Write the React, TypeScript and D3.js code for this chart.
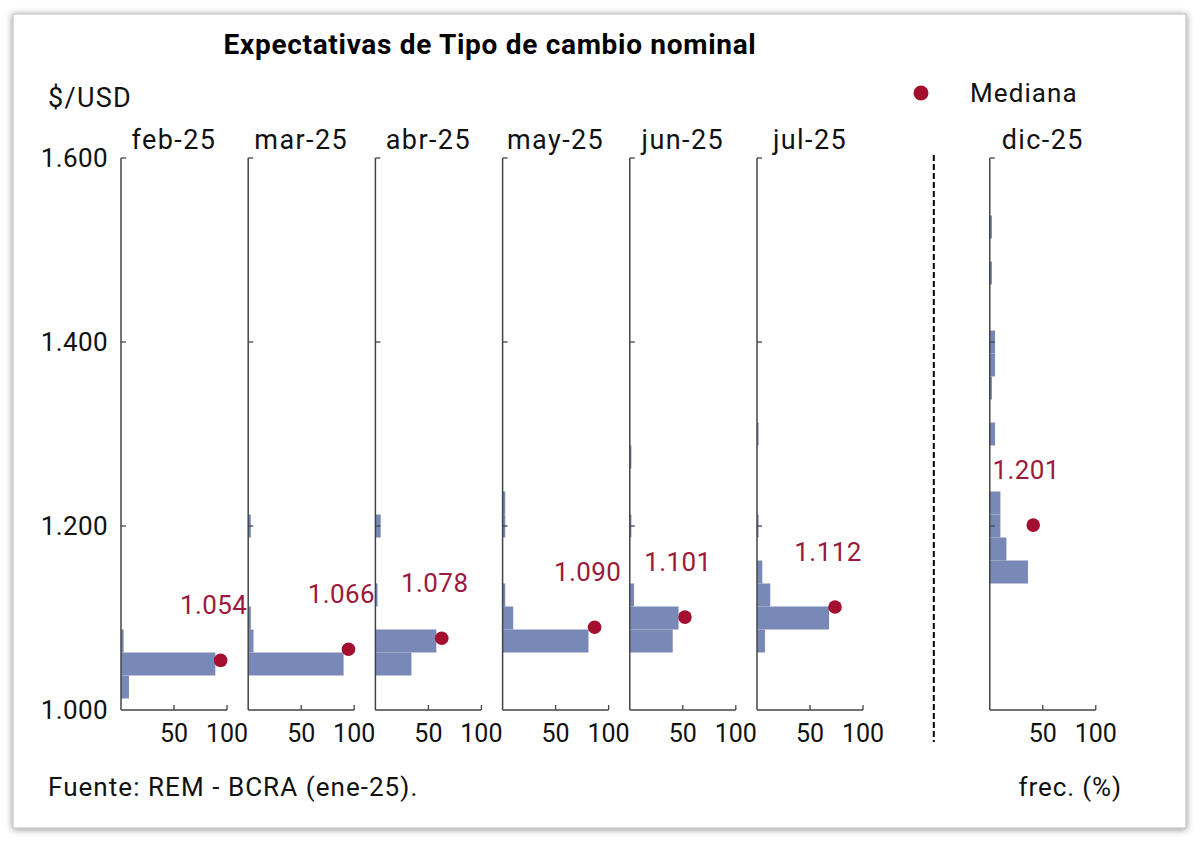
import React from "react";
import * as d3 from "d3";

// ---------- DATA ----------
const months = ["feb-25", "mar-25", "abr-25", "may-25", "jun-25", "jul-25", "dic-25"];
const medians = [1054, 1066, 1078, 1090, 1101, 1112, 1201];
// x position (frequency %) at which the median marker is drawn
const medianMarkerFreq = [94, 94.6, 62.6, 86.8, 52, 73.6, 41];

// histogram bins: [bin centre ($/USD), frequency %]
const histFeb: [number, number][] = [[1025, 7.5], [1050, 89], [1075, 2.5]];
const histMar: [number, number][] = [[1050, 90], [1075, 5], [1100, 2.5], [1200, 2.5]];
const histAbr: [number, number][] = [[1050, 34], [1075, 57.5], [1125, 2], [1200, 5]];
const histMay: [number, number][] = [[1075, 81], [1100, 10], [1125, 2.5], [1200, 2.5], [1225, 2.5]];
const histJun: [number, number][] = [[1075, 40.5], [1100, 46], [1125, 4], [1200, 1.5], [1275, 1.5]];
const histJul: [number, number][] = [[1075, 7.5], [1100, 68], [1125, 12.5], [1150, 5], [1200, 1.5], [1300, 1.5]];
const histDic: [number, number][] = [
  [1150, 36], [1175, 15.7], [1200, 10], [1225, 10], [1300, 5], [1350, 2],
  [1375, 5], [1400, 5], [1475, 2], [1525, 2],
];
const histograms = [histFeb, histMar, histAbr, histMay, histJun, histJul, histDic];

const yTicks = [1000, 1200, 1400, 1600];
const xTicks = [50, 100];
const binWidth = 25;

// ---------- LAYOUT ----------
const panelSlots = [0, 1, 2, 3, 4, 5, 6.83];
const dividerSlot = 6.39;

const BAR = "#7889b8";
const DOT = "#a50f2f";
const LABEL = "#9b1a3c";
const AXIS = "#444";
const FONT = "Roboto, 'Noto Sans', sans-serif";

const fmt = d3.formatLocale({ decimal: ",", thousands: ".", grouping: [3], currency: ["$", ""] }).format(",d");

export default function App() {
  const y = d3.scaleLinear().domain([1000, 1600]).range([710, 158]);
  const slot = d3.scaleLinear().domain([0, 1]).range([121, 248.2]);
  const fx = d3.scaleLinear().domain([0, 100]).range([0, 106]);

  return (
    <svg width={1200} height={844} style={{ position: "absolute", left: 0, top: 0 }} fontFamily={FONT}>
      <defs>
        <filter id="sh" x="-5%" y="-5%" width="110%" height="110%">
          <feDropShadow dx="0" dy="1" stdDeviation="3.5" floodColor="#000" floodOpacity="0.45" />
        </filter>
      </defs>
      <rect x={0} y={0} width={1200} height={844} fill="#fff" />
      <rect x={13} y={14} width={1173} height={814} fill="#fff" stroke="#bbb" strokeWidth={1} filter="url(#sh)" />

      <text x={490} y={54} textAnchor="middle" fontWeight="bold" fontSize={28} fill="#000"
        style={{ letterSpacing: "0.7px" }}>
        Expectativas de Tipo de cambio nominal
      </text>
      <text x={48} y={107} fontSize={27} fill="#111" style={{ letterSpacing: "1.3px" }}>$/USD</text>

      {/* legend */}
      <circle cx={921} cy={93} r={7.5} fill={DOT} />
      <text x={970} y={102} fontSize={26} fill="#111" style={{ letterSpacing: "1.1px" }}>Mediana</text>

      {/* y tick labels */}
      {yTicks.map((t) => (
        <text key={t} x={108} y={y(t)} dy="0.35em" textAnchor="end" fontSize={26} fill="#111"
          style={{ letterSpacing: "0.4px" }}>
          {fmt(t)}
        </text>
      ))}

      {/* divider */}
      <line x1={slot(dividerSlot)} x2={slot(dividerSlot)} y1={155} y2={742}
        stroke="#000" strokeWidth={2} strokeDasharray="6,3" />

      {histograms.map((hist, i) => {
        const x0 = slot(panelSlots[i]);
        const mx = x0 + fx(medianMarkerFreq[i]);
        const my = y(medians[i]);
        return (
          <g key={months[i]}>
            <text x={x0 + 53} y={149} textAnchor="middle" fontSize={27} fill="#111"
              style={{ letterSpacing: "1.4px" }}>{months[i]}</text>
            {hist.map(([c, f]) => (
              <rect key={c} x={x0} y={y(c + binWidth / 2)} width={fx(f)}
                height={y(c - binWidth / 2) - y(c + binWidth / 2)} fill={BAR} />
            ))}
            {/* axes */}
            <line x1={x0} x2={x0} y1={y(1600)} y2={y(1000)} stroke={AXIS} strokeWidth={1.5} />
            <line x1={x0} x2={x0 + fx(100)} y1={y(1000)} y2={y(1000)} stroke={AXIS} strokeWidth={1.5} />
            {yTicks.filter((t) => t > 1000).map((t) => (
              <line key={t} x1={x0} x2={x0 + 5} y1={y(t)} y2={y(t)} stroke={AXIS} strokeWidth={1.3} />
            ))}
            {xTicks.map((t) => (
              <g key={t}>
                <line x1={x0 + fx(t)} x2={x0 + fx(t)} y1={y(1000)} y2={y(1000) - 5} stroke={AXIS} strokeWidth={1.3} />
                <text x={x0 + fx(t)} y={742} textAnchor="middle" fontSize={25} fill="#111">{t}</text>
              </g>
            ))}
            <circle cx={mx} cy={my} r={6.8} fill={DOT} />
            <text x={mx - 7} y={my - 46} textAnchor="middle" fontSize={26} fill={LABEL}
              style={{ letterSpacing: "0.4px" }}>{fmt(medians[i])}</text>
          </g>
        );
      })}

      <text x={48} y={796} fontSize={26} fill="#111" style={{ letterSpacing: "1.05px" }}>Fuente: REM - BCRA (ene-25).</text>
      <text x={1122} y={796} textAnchor="end" fontSize={26} fill="#111" style={{ letterSpacing: "0.9px" }}>frec. (%)</text>
    </svg>
  );
}
